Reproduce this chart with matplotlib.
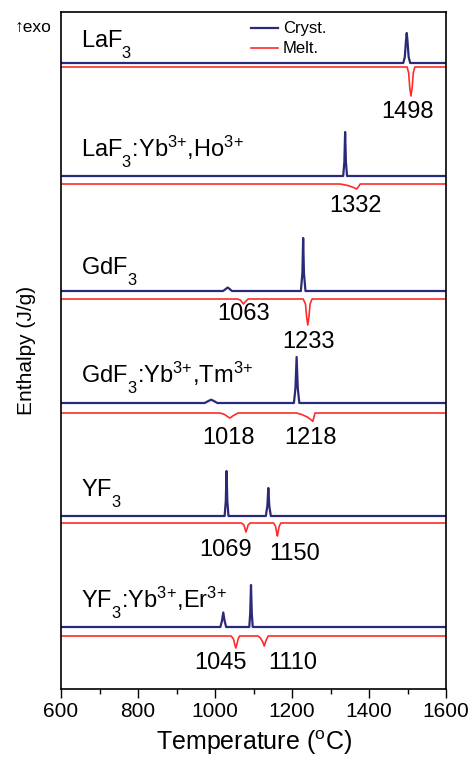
import numpy as np
import matplotlib.pyplot as plt
import matplotlib._mathtext as mathtext

plt.rcParams['font.family'] = ['Liberation Sans', 'DejaVu Sans']
plt.rcParams['mathtext.fontset'] = 'custom'
plt.rcParams['mathtext.rm'] = 'Liberation Sans'
plt.rcParams['mathtext.it'] = 'Liberation Sans:italic'
plt.rcParams['mathtext.bf'] = 'Liberation Sans:bold'
# drop subscripts lower, like the original figure
mathtext.FontConstantsBase.sub1 = 0.9

# sample names, top to bottom
samples = [r'LaF$_\mathregular{3}$',
           r'LaF$_\mathregular{3}$:Yb$^\mathregular{3{+}}$,Ho$^\mathregular{3{+}}$',
           r'GdF$_\mathregular{3}$',
           r'GdF$_\mathregular{3}$:Yb$^\mathregular{3{+}}$,Tm$^\mathregular{3{+}}$',
           r'YF$_\mathregular{3}$',
           r'YF$_\mathregular{3}$:Yb$^\mathregular{3{+}}$,Er$^\mathregular{3{+}}$']

# vertical offsets of each trace (arbitrary units)
cryst_base = [626, 513, 398, 286, 173, 62]
melt_base = [622, 505, 390, 276, 166, 53]

# crystallisation (exo up) and melting (endo down) traces, T in degC
laf3_c_T = [1489, 1493, 1496, 1498, 1500, 1503, 1507]
laf3_c_h = [0, 6, 22, 30, 22, 6, 0]
laf3_m_T = [1499, 1503, 1506, 1509, 1512, 1515, 1519]
laf3_m_h = [0, -6, -21, -29, -21, -6, 0]

ho_c_T = [1333, 1336, 1338, 1340, 1343]
ho_c_h = [0, 14, 44, 14, 0]
ho_m_T = [1325, 1345, 1360, 1368, 1373, 1377]
ho_m_h = [0, -1.5, -3.5, -5, -2.5, 0]

gd_c_T = [1021, 1028, 1033, 1038, 1044, 1223, 1227, 1229, 1231, 1235]
gd_c_h = [0, 2, 3.5, 2, 0, 0, 18, 53, 18, 0]
gd_m_T = [1058, 1066, 1071, 1074, 1078, 1086, 1229, 1235, 1238, 1241, 1244, 1247, 1252]
gd_m_h = [0, -1, -3.5, -5, -3, 0, 0, -5, -18, -26, -18, -5, 0]

tm_c_T = [973, 983, 990, 997, 1006, 1205, 1209, 1212, 1215, 1219]
tm_c_h = [0, 2, 3.3, 2, 0, 0, 15, 46, 15, 0]
tm_m_T = [1013, 1025, 1034, 1039, 1046, 1060, 1212, 1225, 1240, 1250, 1254, 1257, 1260]
tm_m_h = [0, -1.5, -4, -5, -3, 0, 0, -1.5, -4, -7, -8.4, -4, 0]

yf_c_T = [1025, 1028, 1030, 1032, 1035, 1132, 1136, 1138.5, 1141, 1145]
yf_c_h = [0, 15, 45, 15, 0, 0, 10, 28, 10, 0]
yf_m_T = [1069, 1075, 1078, 1080.5, 1083, 1086, 1091, 1152, 1157, 1160, 1162, 1164, 1167, 1171]
yf_m_h = [0, -2, -6, -9, -6, -2, 0, 0, -3, -9, -13, -9, -3, 0]

er_c_T = [1014, 1018, 1021.5, 1025, 1029, 1089, 1091.5, 1093.5, 1095.5, 1098]
er_c_h = [0, 6, 14.5, 6, 0, 0, 14, 42, 14, 0]
er_m_T = [1042, 1048, 1051, 1054, 1057, 1060, 1064, 1112, 1118, 1124, 1128, 1132, 1138]
er_m_h = [0, -3, -8, -12, -8, -3, 0, 0, -2, -6, -10, -5, 0]

cryst_T = [laf3_c_T, ho_c_T, gd_c_T, tm_c_T, yf_c_T, er_c_T]
cryst_h = [laf3_c_h, ho_c_h, gd_c_h, tm_c_h, yf_c_h, er_c_h]
melt_T = [laf3_m_T, ho_m_T, gd_m_T, tm_m_T, yf_m_T, er_m_T]
melt_h = [laf3_m_h, ho_m_h, gd_m_h, tm_m_h, yf_m_h, er_m_h]

# melting point labels
peak_labels = ['1498', '1332', '1063', '1233', '1018', '1218', '1069', '1150', '1045', '1110']
label_T = [1501, 1365, 1074, 1243, 1035, 1247, 1028, 1208, 1013, 1201]
label_y = [577, 483, 375, 347, 251, 251, 139, 135, 26, 26]

xmin, xmax = 600, 1600
blue = '#2b2a78'
red = '#ff2b2b'

fig = plt.figure(figsize=(4.72, 7.60), dpi=100)
ax = fig.add_axes([61/472, 1-689/760, 385/472, 676.7/760])

for i in range(len(samples)):
    T = np.r_[xmin, cryst_T[i], xmax]
    h = np.r_[0, cryst_h[i], 0] + cryst_base[i]
    ax.plot(T, h, color=blue, lw=1.6, label='Cryst.' if i == 0 else None)
    T = np.r_[xmin, melt_T[i], xmax]
    h = np.r_[0, melt_h[i], 0] + melt_base[i]
    ax.plot(T, h, color=red, lw=1.2, label='Melt.' if i == 0 else None)

sample_y = [642, 533, 415, 307, 193, 82]
for name, y in zip(samples, sample_y):
    ax.text(652, y, name, fontsize=17, va='baseline', ha='left')

for s, t, y in zip(peak_labels, label_T, label_y):
    ax.text(t, y, s, fontsize=17, ha='center', va='center')

ax.set_xlim(xmin, xmax)
ax.set_ylim(0, 676.7)
ax.set_yticks([])
ax.set_xticks(np.arange(600, 1601, 200))
ax.set_xticks(np.arange(700, 1600, 200), minor=True)
ax.tick_params(axis='x', which='major', direction='out', length=6.5, width=1.0, labelsize=15, pad=3)
ax.tick_params(axis='x', which='minor', direction='out', length=3.5, width=1.0)
for sp in ax.spines.values():
    sp.set_linewidth(1.2)

ax.set_xlabel(r'Temperature ($^\mathregular{o}$C)', fontsize=18, labelpad=5)
ax.set_ylabel('Enthalpy (J/g)', fontsize=15, labelpad=18)

ax.legend(loc='upper left', bbox_to_anchor=(0.47, 1.0), frameon=False,
          fontsize=12, handlelength=1.6, handletextpad=0.3, labelspacing=0.3,
          borderaxespad=0.15)

fig.text(15/472, 1-27/760, '↑exo', fontsize=12.5, va='center', ha='left')

fig.savefig('out.png', dpi=100)
